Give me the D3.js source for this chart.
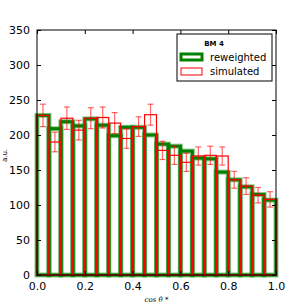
<!DOCTYPE html>
<meta charset="utf-8">
<html>
<head>
  <script src="https://cdn.jsdelivr.net/npm/d3@7"></script>
  <style>
    body { margin: 0; background: #fff; }
    text { font-family: "DejaVu Sans", sans-serif; }
  </style>
</head>
<body>
<div id="chart"></div>
<script>
  // bin lower edges (width 0.05)
  const binEdges = [0, 0.05, 0.1, 0.15, 0.2, 0.25, 0.3, 0.35, 0.4, 0.45,
                    0.5, 0.55, 0.6, 0.65, 0.7, 0.75, 0.8, 0.85, 0.9, 0.95];
  const binWidth = 0.05;
  const reweighted = [228, 209, 219, 213, 223, 214, 199, 211, 211, 200,
                      187, 184, 177, 167, 166, 147, 136, 126, 115, 107];
  const simulated  = [228, 190, 224, 207, 224, 225, 217, 195, 212, 229,
                      178, 171, 161, 170, 171, 170, 136, 127, 114, 108];
  const simErr     = [16, 14, 16, 14, 15, 15, 15, 14, 14, 15,
                      13, 13, 13, 13, 13, 13, 12, 12, 11, 11];
  const xTicks = [0, 0.2, 0.4, 0.6, 0.8, 1.0];
  const yTicks = [0, 50, 100, 150, 200, 250, 300, 350];

  const W = 307, H = 307;
  const m = {left: 37, right: 31, top: 30, bottom: 32};

  const svg = d3.select('#chart').append('svg')
    .attr('width', W).attr('height', H);

  const x = d3.scaleLinear().domain([0, 1]).range([m.left, W - m.right]);
  const y = d3.scaleLinear().domain([0, 350]).range([H - m.bottom, m.top]);

  const plot = svg.append('g');

  // reweighted: thick green outlines
  const green = plot.append('g');
  green.selectAll('rect.halo').data(reweighted).enter()
    .append('rect').attr('class', 'halo')
    .attr('x', (d, i) => x(binEdges[i])).attr('width', x(binWidth) - x(0))
    .attr('y', d => y(d)).attr('height', d => y(0) - y(d))
    .attr('fill', 'none').attr('stroke', '#008000').attr('stroke-opacity', 0.45)
    .attr('stroke-width', 5);
  green.selectAll('rect.core').data(reweighted).enter()
    .append('rect').attr('class', 'core')
    .attr('x', (d, i) => x(binEdges[i])).attr('width', x(binWidth) - x(0))
    .attr('y', d => y(d)).attr('height', d => y(0) - y(d))
    .attr('fill', 'none').attr('stroke', '#008000')
    .attr('stroke-width', 3);

  // simulated: thin red outlines
  plot.append('g').selectAll('rect').data(simulated).enter()
    .append('rect')
    .attr('x', (d, i) => x(binEdges[i])).attr('width', x(binWidth) - x(0))
    .attr('y', d => y(d)).attr('height', d => y(0) - y(d))
    .attr('fill', 'none').attr('stroke', '#ff0000').attr('stroke-width', 1.2);

  // error bars
  const eb = plot.append('g').attr('stroke', '#ff0000').attr('stroke-opacity', 0.6)
    .attr('stroke-width', 1.2);
  simulated.forEach((d, i) => {
    const cx = x(binEdges[i] + binWidth / 2);
    const e = simErr[i];
    eb.append('line').attr('x1', cx).attr('x2', cx).attr('y1', y(d - e)).attr('y2', y(d + e));
    eb.append('line').attr('x1', cx - 3).attr('x2', cx + 3).attr('y1', y(d - e)).attr('y2', y(d - e));
    eb.append('line').attr('x1', cx - 3).attr('x2', cx + 3).attr('y1', y(d + e)).attr('y2', y(d + e));
  });

  // axes (ticks inside on all sides)
  const axB = svg.append('g').attr('transform', `translate(0,${H - m.bottom})`)
    .call(d3.axisBottom(x).tickValues(xTicks).tickFormat(d3.format('.1f')).tickSizeInner(-4).tickSizeOuter(0).tickPadding(7));
  const axT = svg.append('g').attr('transform', `translate(0,${m.top})`)
    .call(d3.axisTop(x).tickValues(xTicks).tickFormat('').tickSizeInner(-4).tickSizeOuter(0));
  const axL = svg.append('g').attr('transform', `translate(${m.left},0)`)
    .call(d3.axisLeft(y).tickValues(yTicks).tickSizeInner(-4).tickSizeOuter(0).tickPadding(7));
  const axR = svg.append('g').attr('transform', `translate(${W - m.right},0)`)
    .call(d3.axisRight(y).tickValues(yTicks).tickFormat('').tickSizeInner(-4).tickSizeOuter(0));
  [axB, axT, axL, axR].forEach(a => {
    a.select('.domain').remove();
    a.selectAll('text').attr('font-size', 11).attr('fill', '#000')
      .style('font-family', '"DejaVu Sans", sans-serif');
    a.selectAll('line').attr('stroke', '#000');
  });

  svg.append('rect')
    .attr('x', m.left).attr('y', m.top)
    .attr('width', W - m.left - m.right).attr('height', H - m.top - m.bottom)
    .attr('fill', 'none').attr('stroke', '#000').attr('stroke-width', 1);

  // axis labels
  svg.append('text').attr('transform', `translate(7,${(m.top + H - m.bottom) / 2 + 3}) rotate(-90)`)
    .attr('text-anchor', 'middle').attr('font-size', 7).text('a.u.');
  svg.append('text').attr('x', (m.left + W - m.right) / 2).attr('y', 302)
    .attr('text-anchor', 'middle').attr('font-size', 7)
    .style('font-family', '"DejaVu Serif", serif').style('font-style', 'italic')
    .text('cos θ *');

  // legend
  const lg = svg.append('g');
  lg.append('rect').attr('x', 177).attr('y', 34).attr('width', 95).attr('height', 47)
    .attr('fill', '#fff').attr('stroke', '#000').attr('stroke-width', 1);
  lg.append('text').attr('x', 214).attr('y', 46).attr('text-anchor', 'middle')
    .attr('font-size', 7).attr('font-weight', 'bold').text('BM 4');
  lg.append('rect').attr('x', 181).attr('y', 54).attr('width', 21).attr('height', 6)
    .attr('fill', 'none').attr('stroke', '#008000').attr('stroke-width', 3);
  lg.append('rect').attr('x', 181).attr('y', 68).attr('width', 21).attr('height', 7)
    .attr('fill', 'none').attr('stroke', '#ff0000').attr('stroke-width', 1);
  lg.append('text').attr('x', 210).attr('y', 61).attr('font-size', 10).text('reweighted');
  lg.append('text').attr('x', 210).attr('y', 75).attr('font-size', 10).text('simulated');
</script>
</body>
</html>
